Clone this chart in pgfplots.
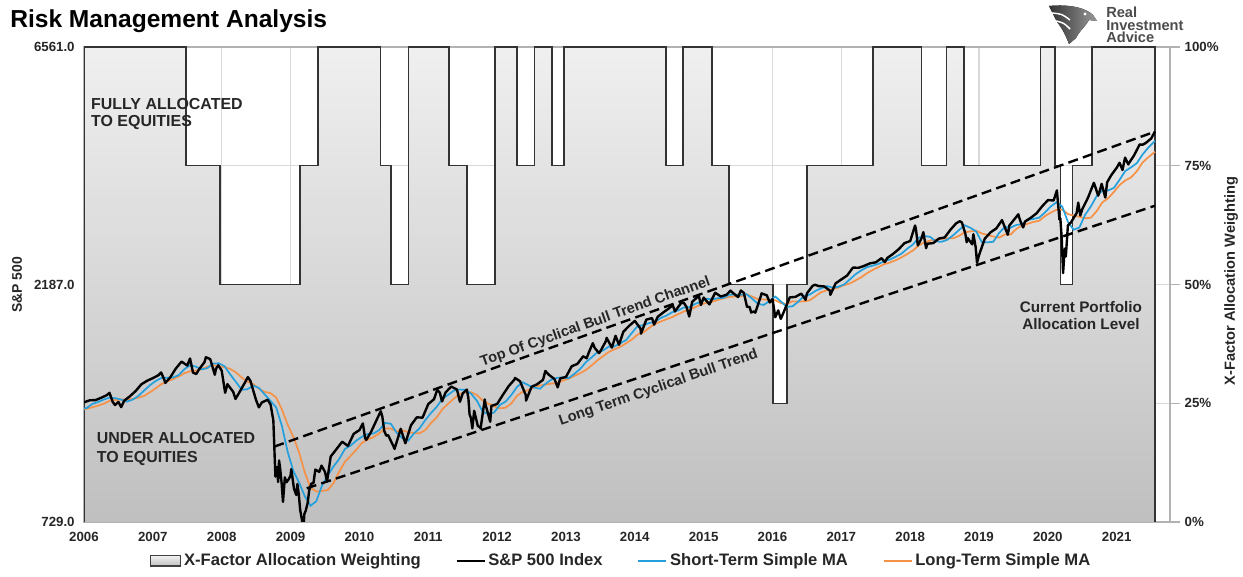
\documentclass[border=0pt]{standalone}
\usepackage{fontspec}
\setmainfont{Liberation Sans}
\usepackage{pgfplots}
\pgfplotsset{compat=1.18}
\definecolor{spblue}{RGB}{38,160,220}
\definecolor{sporange}{RGB}{246,146,72}
\definecolor{txt}{RGB}{38,38,38}

\begin{document}
\begin{tikzpicture}[font=\bfseries]
% --- allocation weighting (right axis, drawn behind) ---
\begin{axis}[
    width=814.5bp, height=356.25bp, scale only axis,
    xmin=2006, xmax=2021.773, ymin=0, ymax=100,
    xtick={2006,2007,...,2021},
    xticklabels={2006,2007,2008,2009,2010,2011,2012,2013,2014,2015,2016,2017,2018,2019,2020,2021},
    ytick={0,25,50,75,100},
    yticklabels={0\%,25\%,50\%,75\%,100\%},
    xtick pos=left, ytick pos=right,
    grid=major, grid style={draw=black!15, line width=0.9pt},
    axis line style={draw=black!30, line width=0.8pt},
    tick align=outside, major tick length=7.5bp,
    ytick style={draw=black!30, line width=0.8pt},
    xtick style={draw=none},
    ticklabel style={font=\bfseries\fontsize{10}{12}\selectfont, text=txt},
    xticklabel style={yshift=3bp},
]
\addplot[const plot, draw=none, top color=black!6, bottom color=black!25] coordinates {
    (2006,0) (2006,100) (2007.48,75) (2007.975,50) (2009.14,75) (2009.40,100)
    (2010.31,75) (2010.46,50) (2010.71,100) (2011.30,75) (2011.56,50) (2011.97,100)
    (2012.29,75) (2012.54,100) (2012.80,75) (2012.97,100) (2014.45,75) (2014.70,100)
    (2015.12,75) (2015.37,50) (2016.01,25) (2016.21,50) (2016.50,75) (2017.46,100)
    (2018.16,75) (2018.53,100) (2018.78,75) (2019.89,100) (2020.10,75) (2020.18,50)
    (2020.36,75) (2020.64,100) (2021.555,100) (2021.555,0)
};
\addplot[const plot, draw=black!80, line width=1.1pt] coordinates {
    (2006,0) (2006,100) (2007.48,75) (2007.975,50) (2009.14,75) (2009.40,100)
    (2010.31,75) (2010.46,50) (2010.71,100) (2011.30,75) (2011.56,50) (2011.97,100)
    (2012.29,75) (2012.54,100) (2012.80,75) (2012.97,100) (2014.45,75) (2014.70,100)
    (2015.12,75) (2015.37,50) (2016.01,25) (2016.21,50) (2016.50,75) (2017.46,100)
    (2018.16,75) (2018.53,100) (2018.78,75) (2019.89,100) (2020.10,75) (2020.18,50)
    (2020.36,75) (2020.64,100) (2021.555,100) (2021.555,0)
};
\end{axis}

% --- S&P 500 and moving averages (left log axis) ---
\begin{axis}[
    width=814.5bp, height=356.25bp, scale only axis,
    xmin=2006, xmax=2021.773,
    ymode=log, ymin=729, ymax=6561,
    hide x axis, axis y line*=left, y axis line style={draw=none},
    ytick={729,2187,6561}, yticklabels={729.0,2187.0,6561.0},
    major tick length=0pt, ytick style={draw=none},
    yticklabel style={font=\bfseries\fontsize{10}{12}\selectfont, text=txt, xshift=-3.5bp},
    legend columns=4,
    legend style={at={(0.495,-0.082)}, anchor=center, draw=none, fill=none,
        font=\bfseries\fontsize{12.5}{15}\selectfont, text=txt,
        /tikz/every even column/.append style={column sep=24bp}},
    legend image code/.code={\draw[#1] (0bp,0bp) -- (21bp,0bp);},
]
% long-term simple MA
\addplot[forget plot, sporange, line width=1.3pt] coordinates {
(2006.00,1228) (2006.04,1231) (2006.123,1239) (2006.207,1249) (2006.29,1260) (2006.373,1277)
(2006.457,1281) (2006.54,1285) (2006.623,1284) (2006.707,1288) (2006.79,1295) (2006.873,1306)
(2006.957,1328) (2007.04,1352) (2007.123,1379) (2007.207,1396) (2007.29,1411) (2007.373,1428)
(2007.457,1450) (2007.54,1464) (2007.623,1467) (2007.707,1478) (2007.79,1495) (2007.873,1507)
(2007.957,1498) (2008.04,1492) (2008.123,1480) (2008.207,1456) (2008.29,1422) (2008.373,1395)
(2008.457,1381) (2008.54,1350) (2008.623,1331) (2008.707,1323) (2008.79,1297) (2008.873,1228)
(2008.957,1144) (2009.04,1081) (2009.123,1007) (2009.207,916) (2009.29,855) (2009.373,839)
(2009.457,842) (2009.54,845) (2009.623,872) (2009.707,920) (2009.79,963) (2009.873,990)
(2009.957,1019) (2010.04,1052) (2010.123,1067) (2010.207,1080) (2010.29,1099) (2010.373,1124)
(2010.457,1123) (2010.54,1109) (2010.623,1114) (2010.707,1105) (2010.79,1100) (2010.873,1099)
(2010.957,1115) (2011.04,1152) (2011.123,1183) (2011.207,1229) (2011.29,1260) (2011.373,1290)
(2011.457,1318) (2011.54,1328) (2011.623,1329) (2011.707,1311) (2011.79,1279) (2011.873,1260)
(2011.957,1244) (2012.04,1233) (2012.123,1237) (2012.207,1261) (2012.29,1307) (2012.373,1332)
(2012.457,1342) (2012.54,1359) (2012.623,1371) (2012.707,1377) (2012.79,1383) (2012.873,1385)
(2012.957,1403) (2013.04,1414) (2013.123,1433) (2013.207,1451) (2013.29,1473) (2013.373,1504)
(2013.457,1540) (2013.54,1570) (2013.623,1601) (2013.707,1621) (2013.79,1639) (2013.873,1666)
(2013.957,1695) (2014.04,1735) (2014.123,1752) (2014.207,1789) (2014.29,1821) (2014.373,1842)
(2014.457,1862) (2014.54,1880) (2014.623,1905) (2014.707,1929) (2014.79,1946) (2014.873,1968)
(2014.957,1992) (2015.04,2009) (2015.123,2019) (2015.207,2036) (2015.29,2052) (2015.373,2064)
(2015.457,2070) (2015.54,2071) (2015.623,2089) (2015.707,2067) (2015.79,2042) (2015.873,2041)
(2015.957,2036) (2016.04,2033) (2016.123,2006) (2016.207,1999) (2016.29,2023) (2016.373,2020)
(2016.457,2023) (2016.54,2032) (2016.623,2071) (2016.707,2111) (2016.79,2129) (2016.873,2139)
(2016.957,2156) (2017.04,2180) (2017.123,2197) (2017.207,2229) (2017.29,2262) (2017.373,2305)
(2017.457,2340) (2017.54,2371) (2017.623,2403) (2017.707,2421) (2017.79,2447) (2017.873,2479)
(2017.957,2518) (2018.04,2560) (2018.123,2619) (2018.207,2659) (2018.29,2679) (2018.373,2692)
(2018.457,2701) (2018.54,2708) (2018.623,2707) (2018.707,2738) (2018.79,2784) (2018.873,2795)
(2018.957,2804) (2019.04,2769) (2019.123,2750) (2019.207,2730) (2019.29,2717) (2019.373,2756)
(2019.457,2755) (2019.54,2827) (2019.623,2873) (2019.707,2897) (2019.79,2921) (2019.873,2936)
(2019.957,3001) (2020.04,3049) (2020.123,3090) (2020.207,3095) (2020.29,3029) (2020.373,3008)
(2020.457,2992) (2020.54,2970) (2020.623,2978) (2020.707,3069) (2020.79,3198) (2020.873,3258)
(2020.957,3354) (2021.04,3464) (2021.123,3538) (2021.207,3589) (2021.29,3691) (2021.373,3843)
(2021.457,3940) (2021.555,4040)
};
% short-term simple MA
\addplot[forget plot, spblue, line width=1.3pt] coordinates {
(2006.00,1232) (2006.04,1235) (2006.123,1259) (2006.207,1270) (2006.29,1285) (2006.373,1296)
(2006.457,1292) (2006.54,1284) (2006.623,1272) (2006.707,1284) (2006.79,1306) (2006.873,1339)
(2006.957,1372) (2007.04,1399) (2007.123,1419) (2007.207,1421) (2007.29,1422) (2007.373,1437)
(2007.457,1478) (2007.54,1505) (2007.623,1496) (2007.707,1477) (2007.79,1485) (2007.873,1517)
(2007.957,1519) (2008.04,1499) (2008.123,1443) (2008.207,1393) (2008.29,1344) (2008.373,1347)
(2008.457,1370) (2008.54,1355) (2008.623,1316) (2008.707,1277) (2008.79,1239) (2008.873,1139)
(2008.957,1010) (2009.04,923) (2009.123,875) (2009.207,821) (2009.29,786) (2009.373,802)
(2009.457,863) (2009.54,904) (2009.623,942) (2009.707,976) (2009.79,1022) (2009.873,1038)
(2009.957,1063) (2010.04,1082) (2010.123,1095) (2010.207,1098) (2010.29,1116) (2010.373,1153)
(2010.457,1148) (2010.54,1102) (2010.623,1074) (2010.707,1061) (2010.79,1097) (2010.873,1124)
(2010.957,1168) (2011.04,1207) (2011.123,1242) (2011.207,1290) (2011.29,1313) (2011.373,1339)
(2011.457,1345) (2011.54,1343) (2011.623,1319) (2011.707,1277) (2011.79,1214) (2011.873,1201)
(2011.957,1210) (2012.04,1253) (2012.123,1272) (2012.207,1312) (2012.29,1362) (2012.373,1391)
(2012.457,1372) (2012.54,1357) (2012.623,1350) (2012.707,1383) (2012.79,1409) (2012.873,1420)
(2012.957,1423) (2013.04,1418) (2013.123,1447) (2013.207,1480) (2013.29,1527) (2013.373,1561)
(2013.457,1599) (2013.54,1612) (2013.623,1641) (2013.707,1642) (2013.79,1667) (2013.873,1691)
(2013.957,1748) (2014.04,1804) (2014.123,1812) (2014.207,1830) (2014.29,1838) (2014.373,1872)
(2014.457,1893) (2014.54,1923) (2014.623,1938) (2014.707,1965) (2014.79,1969) (2014.873,1998)
(2014.957,2019) (2015.04,2048) (2015.123,2041) (2015.207,2053) (2015.29,2056) (2015.373,2086)
(2015.457,2087) (2015.54,2085) (2015.623,2091) (2015.707,2046) (2015.79,1999) (2015.873,1990)
(2015.957,2026) (2016.04,2068) (2016.123,2021) (2016.207,1972) (2016.29,1977) (2016.373,2019)
(2016.457,2074) (2016.54,2087) (2016.623,2123) (2016.707,2148) (2016.79,2171) (2016.873,2155)
(2016.957,2164) (2017.04,2188) (2017.123,2239) (2017.207,2294) (2017.29,2335) (2017.373,2370)
(2017.457,2386) (2017.54,2406) (2017.623,2435) (2017.707,2455) (2017.79,2487) (2017.873,2522)
(2017.957,2581) (2018.04,2632) (2018.123,2715) (2018.207,2737) (2018.29,2726) (2018.373,2668)
(2018.457,2665) (2018.54,2690) (2018.623,2746) (2018.707,2812) (2018.79,2877) (2018.873,2843)
(2018.957,2795) (2019.04,2660) (2019.123,2657) (2019.207,2665) (2019.29,2774) (2019.373,2855)
(2019.457,2844) (2019.54,2880) (2019.623,2891) (2019.707,2949) (2019.79,2961) (2019.873,2980)
(2019.957,3052) (2020.04,3137) (2020.123,3199) (2020.207,3137) (2020.29,2922) (2020.373,2817)
(2020.457,2847) (2020.54,3019) (2020.623,3138) (2020.707,3290) (2020.79,3378) (2020.873,3378)
(2020.957,3418) (2021.04,3549) (2021.123,3697) (2021.207,3760) (2021.29,3833) (2021.373,3988)
(2021.457,4119) (2021.555,4250)
};
% S&P 500 index
\addplot[forget plot, black, line width=1.8pt, line join=round] coordinates {
(2006.00,1268) (2006.083,1280) (2006.167,1281) (2006.25,1295) (2006.333,1311) (2006.37,1325)
(2006.417,1270) (2006.45,1252) (2006.5,1270) (2006.54,1240) (2006.583,1277) (2006.667,1304)
(2006.75,1336) (2006.833,1378) (2006.917,1401)
(2007.0,1418) (2007.083,1438) (2007.12,1456) (2007.167,1407) (2007.18,1387) (2007.25,1421)
(2007.333,1482) (2007.417,1531) (2007.5,1503) (2007.54,1553) (2007.583,1455) (2007.63,1445)
(2007.667,1474) (2007.75,1527) (2007.77,1562) (2007.833,1549) (2007.9,1440) (2007.917,1481)
(2007.95,1505)
(2008.0,1468) (2008.05,1325) (2008.083,1379) (2008.167,1331) (2008.2,1288) (2008.25,1323)
(2008.333,1386) (2008.38,1425) (2008.417,1400) (2008.5,1280) (2008.54,1239) (2008.583,1267)
(2008.667,1283) (2008.71,1255) (2008.75,1166) (2008.78,899) (2008.80,940) (2008.82,877)
(2008.833,969) (2008.85,930) (2008.87,873) (2008.89,800) (2008.917,896) (2008.94,876)
(2008.97,887)
(2009.0,903) (2009.01,931) (2009.03,890) (2009.05,850) (2009.083,826) (2009.1,869)
(2009.12,827) (2009.14,770) (2009.167,735) (2009.18,683) (2009.2,756) (2009.22,768)
(2009.25,798) (2009.27,843) (2009.3,870) (2009.333,873) (2009.36,929) (2009.417,919)
(2009.45,946) (2009.5,919) (2009.53,879) (2009.583,987) (2009.667,1021) (2009.75,1057)
(2009.833,1036) (2009.917,1096)
(2010.0,1115) (2010.05,1150) (2010.083,1074) (2010.1,1066) (2010.167,1104) (2010.25,1169)
(2010.31,1217) (2010.333,1187) (2010.36,1111) (2010.39,1087) (2010.417,1089) (2010.5,1031)
(2010.51,1022) (2010.583,1102) (2010.6,1122) (2010.667,1049) (2010.75,1141) (2010.833,1183)
(2010.917,1181)
(2011.0,1258) (2011.083,1286) (2011.13,1343) (2011.167,1327) (2011.2,1273) (2011.25,1326)
(2011.333,1364) (2011.417,1345) (2011.46,1271) (2011.5,1321) (2011.56,1345) (2011.583,1292)
(2011.6,1199) (2011.62,1179) (2011.64,1124) (2011.667,1219) (2011.72,1136) (2011.75,1131)
(2011.76,1123) (2011.82,1285) (2011.833,1253) (2011.9,1159) (2011.917,1247)
(2012.0,1258) (2012.083,1312) (2012.167,1366) (2012.25,1408) (2012.26,1419) (2012.333,1398)
(2012.417,1310) (2012.42,1278) (2012.5,1362) (2012.583,1379) (2012.667,1407) (2012.7,1466)
(2012.75,1441) (2012.833,1412) (2012.88,1359) (2012.917,1416)
(2013.0,1426) (2013.083,1498) (2013.167,1515) (2013.25,1569) (2013.3,1555) (2013.333,1598)
(2013.39,1667) (2013.417,1631) (2013.48,1592) (2013.5,1606) (2013.583,1686) (2013.59,1709)
(2013.667,1633) (2013.72,1725) (2013.75,1682) (2013.77,1655) (2013.833,1757) (2013.917,1806)
(2014.0,1848) (2014.083,1783) (2014.09,1742) (2014.167,1859) (2014.25,1872) (2014.28,1816)
(2014.333,1884) (2014.417,1924) (2014.5,1960) (2014.55,1988) (2014.583,1931) (2014.667,2003)
(2014.71,2011) (2014.75,1972) (2014.79,1886) (2014.833,2018) (2014.917,2068) (2014.93,2075)
(2014.96,1989)
(2015.0,2059) (2015.083,1995) (2015.167,2105) (2015.25,2068) (2015.333,2086) (2015.39,2126)
(2015.417,2107) (2015.5,2063) (2015.54,2127) (2015.583,2104) (2015.63,1971) (2015.667,1972)
(2015.69,1921) (2015.73,1931) (2015.75,1920) (2015.833,2079) (2015.84,2099) (2015.917,2080)
(2015.96,2012)
(2016.0,2044) (2016.04,1880) (2016.06,1907) (2016.083,1940) (2016.12,1865) (2016.167,1932)
(2016.25,2060) (2016.333,2065) (2016.417,2097) (2016.48,2037) (2016.5,2099) (2016.583,2174)
(2016.62,2184) (2016.667,2171) (2016.75,2168) (2016.833,2126) (2016.84,2085) (2016.917,2199)
(2017.0,2239) (2017.083,2279) (2017.167,2364) (2017.25,2363) (2017.333,2384) (2017.417,2412)
(2017.5,2423) (2017.583,2470) (2017.63,2426) (2017.667,2472) (2017.75,2519) (2017.833,2575)
(2017.917,2648)
(2018.0,2674) (2018.07,2873) (2018.083,2824) (2018.11,2620) (2018.167,2714) (2018.19,2786)
(2018.23,2588) (2018.25,2641) (2018.333,2648) (2018.417,2705) (2018.5,2718) (2018.583,2816)
(2018.667,2902) (2018.72,2930) (2018.75,2914) (2018.8,2767) (2018.82,2659) (2018.833,2712)
(2018.9,2633) (2018.917,2760) (2018.95,2600) (2018.97,2417)
(2019.0,2507) (2019.083,2704) (2019.167,2784) (2019.25,2834) (2019.333,2946) (2019.417,2752)
(2019.44,2873) (2019.5,2942) (2019.57,3026) (2019.583,2980) (2019.6,2932) (2019.64,2847)
(2019.667,2926) (2019.75,2977) (2019.833,3038) (2019.917,3141)
(2020.0,3231) (2020.083,3226) (2020.13,3380) (2020.167,2954) (2020.18,2972) (2020.2,2711)
(2020.22,2305) (2020.24,2541) (2020.25,2585) (2020.26,2489) (2020.29,2875) (2020.333,2912)
(2020.417,3044) (2020.44,3193) (2020.47,3009) (2020.5,3100) (2020.583,3271) (2020.667,3500)
(2020.69,3427) (2020.73,3298) (2020.75,3363) (2020.78,3484) (2020.833,3270) (2020.86,3509)
(2020.917,3622)
(2021.0,3756) (2021.04,3841) (2021.083,3714) (2021.12,3934) (2021.167,3811) (2021.18,3842)
(2021.25,3973) (2021.333,4181) (2021.37,4173) (2021.417,4204) (2021.5,4298) (2021.555,4440)
};
% trend channel
\addplot[forget plot, black, line width=1.8pt, dash pattern=on 7.5bp off 4bp]
    coordinates {(2008.764,1033) (2021.555,4434)};
\addplot[forget plot, black, line width=1.8pt, dash pattern=on 7.5bp off 4bp]
    coordinates {(2009.235,852) (2021.555,3149)};

% legend
\addlegendimage{legend image code/.code={\draw[draw=black!75, line width=0.9pt, top color=black!6, bottom color=black!25] (0bp,-3.8bp) rectangle (22.5bp,3.8bp);}}
\addlegendentry{X-Factor Allocation Weighting}
\addlegendimage{black, line width=1.6pt}
\addlegendentry{S\&P 500 Index}
\addlegendimage{spblue, line width=1.6pt}
\addlegendentry{Short-Term Simple MA}
\addlegendimage{sporange, line width=1.6pt}
\addlegendentry{Long-Term Simple MA}

% annotations
\begin{scope}[every node/.style={inner sep=0pt, text=txt}]
\node[anchor=north west, align=left, font=\bfseries\fontsize{12}{13.3}\selectfont]
    at (rel axis cs:0.0064,0.893) {FULLY ALLOCATED\\TO EQUITIES};
\node[anchor=north west, align=left, font=\bfseries\fontsize{12}{14.5}\selectfont]
    at (rel axis cs:0.0117,0.19) {UNDER ALLOCATED\\TO EQUITIES};
\node[align=center, font=\bfseries\fontsize{11.5}{12.8}\selectfont]
    at (rel axis cs:0.918,0.434) {Current Portfolio\\Allocation Level};
\node[rotate=19.5, font=\bfseries\fontsize{11}{13}\selectfont]
    at (rel axis cs:0.471,0.421) {Top Of Cyclical Bull Trend Channel};
\node[rotate=19, font=\bfseries\fontsize{11}{13}\selectfont]
    at (rel axis cs:0.529,0.282) {Long Term Cyclical Bull Trend};
\end{scope}
\end{axis}

% titles, axis labels and logo, placed in image pixels (origin top left)
\begin{scope}[shift={(-63bp,391.5bp)}, x=0.75bp, y=-0.75bp]
\node[anchor=west, inner sep=0pt, font=\bfseries\fontsize{18.5}{22}\selectfont]
    at (10,21) {Risk Management Analysis};
\node[rotate=90, inner sep=0pt, text=txt, font=\bfseries\fontsize{10.5}{12}\selectfont]
    at (17,285) {S\&P 500};
\node[rotate=90, inner sep=0pt, text=txt, font=\bfseries\fontsize{11}{12}\selectfont]
    at (1231,281) {X-Factor Allocation Weighting};
\fill[left color=black!80, right color=black!40]
    (1049,6) .. controls (1070,4) and (1086,8) .. (1093,15) -- (1097,21) -- (1089,20)
    .. controls (1086,26) and (1080,30) .. (1076,38) -- (1069,44)
    .. controls (1066,36) and (1062,28) .. (1057,22) .. controls (1054,16) .. (1049,6) -- cycle;
\draw[white, line width=1.1pt] (1052,13) .. controls (1062,14) .. (1070,20);
\draw[white, line width=1.1pt] (1056,21) .. controls (1064,23) .. (1070,29);
\fill[white] (1085,14) circle (1.6);
\node[anchor=north west, align=left, inner sep=0pt, text=black!70,
    font=\bfseries\fontsize{11}{9.2}\selectfont] at (1106,7) {Real\\Investment\\Advice};
\pgfresetboundingbox
\path[use as bounding box] (0,0) rectangle (1243,576);
\end{scope}
\end{tikzpicture}
\end{document}
